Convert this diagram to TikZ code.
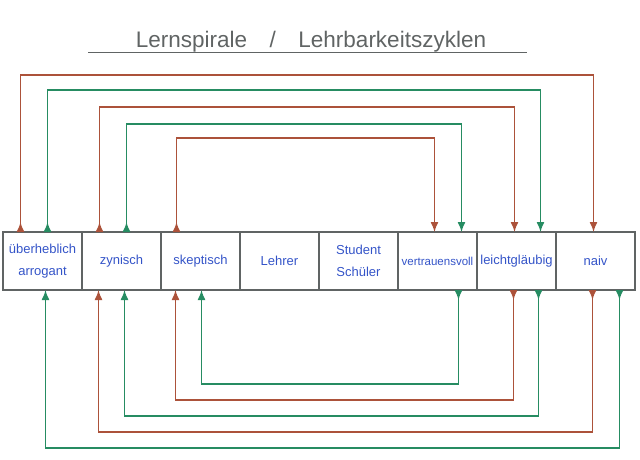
\documentclass[tikz,border=0pt]{standalone}
\usepackage{fontspec}
\setmainfont{Liberation Sans}
\usetikzlibrary{positioning,arrows.meta}

\definecolor{rust}{RGB}{172,82,58}
\definecolor{pine}{RGB}{38,140,98}
\definecolor{ink}{RGB}{52,84,200}
\definecolor{pencil}{RGB}{96,100,100}

\begin{document}
\begin{tikzpicture}[x=1pt, y=1pt,
  cell/.style={draw=pencil, line width=1.3pt, rectangle, minimum width=79pt, minimum height=58pt,
    inner sep=1pt, outer sep=0pt, text=ink, align=center, font=\fontsize{13}{22}\selectfont},
  cycleline/.style={line width=1.4pt,
    {Latex[reversed,length=10pt,width=8pt]}-{Latex[length=10pt,width=8pt]}}]
  \useasboundingbox (0,0) rectangle (640,-459);

  % title
  \node[anchor=base, text=pencil, font=\fontsize{22.5}{26}\selectfont] (title) at (311,-47)
    {Lernspirale\quad/\quad Lehrbarkeitszyklen};
  \draw[pencil, line width=1pt] (88,-52) -- (527,-52);

  % the row of stages
  \node[cell] (ueber) at (42.5,-261) {überheblich\\arrogant};
  \node[cell, right=0pt of ueber] (zyn) {zynisch};
  \node[cell, right=0pt of zyn] (skep) {skeptisch};
  \node[cell, right=0pt of skep] (lehrer) {Lehrer};
  \node[cell, right=0pt of lehrer] (student) {Student\\Schüler};
  \node[cell, right=0pt of student, font=\fontsize{11.5}{22}\selectfont] (vertr) {vertrauensvoll};
  \node[cell, right=0pt of vertr] (leicht) {leichtgläubig};
  \node[cell, right=0pt of leicht] (naiv) {naiv};

  % upper loops
  \draw[cycleline, rust] ([xshift=-22pt]ueber.north) -- ++(0,157) -| ([xshift=-2pt]naiv.north);
  \draw[cycleline, pine] ([xshift=5pt]ueber.north) -- ++(0,142) -| ([xshift=24pt]leicht.north);
  \draw[cycleline, rust] ([xshift=-22pt]zyn.north) -- ++(0,125) -| ([xshift=-2pt]leicht.north);
  \draw[cycleline, pine] ([xshift=5pt]zyn.north) -- ++(0,108) -| ([xshift=24pt]vertr.north);
  \draw[cycleline, rust] ([xshift=-24pt]skep.north) -- ++(0,94) -| ([xshift=-3pt]vertr.north);

  % lower loops
  \draw[cycleline, pine] ([xshift=21pt]vertr.south) -- ++(0,-94) -| ([xshift=1pt]skep.south);
  \draw[cycleline, rust] ([xshift=-3pt]leicht.south) -- ++(0,-110) -| ([xshift=-25pt]skep.south);
  \draw[cycleline, pine] ([xshift=22pt]leicht.south) -- ++(0,-126) -| ([xshift=3pt]zyn.south);
  \draw[cycleline, rust] ([xshift=-3pt]naiv.south) -- ++(0,-142) -| ([xshift=-23pt]zyn.south);
  \draw[cycleline, pine] ([xshift=24pt]naiv.south) -- ++(0,-158) -| ([xshift=3pt]ueber.south);
\end{tikzpicture}
\end{document}
